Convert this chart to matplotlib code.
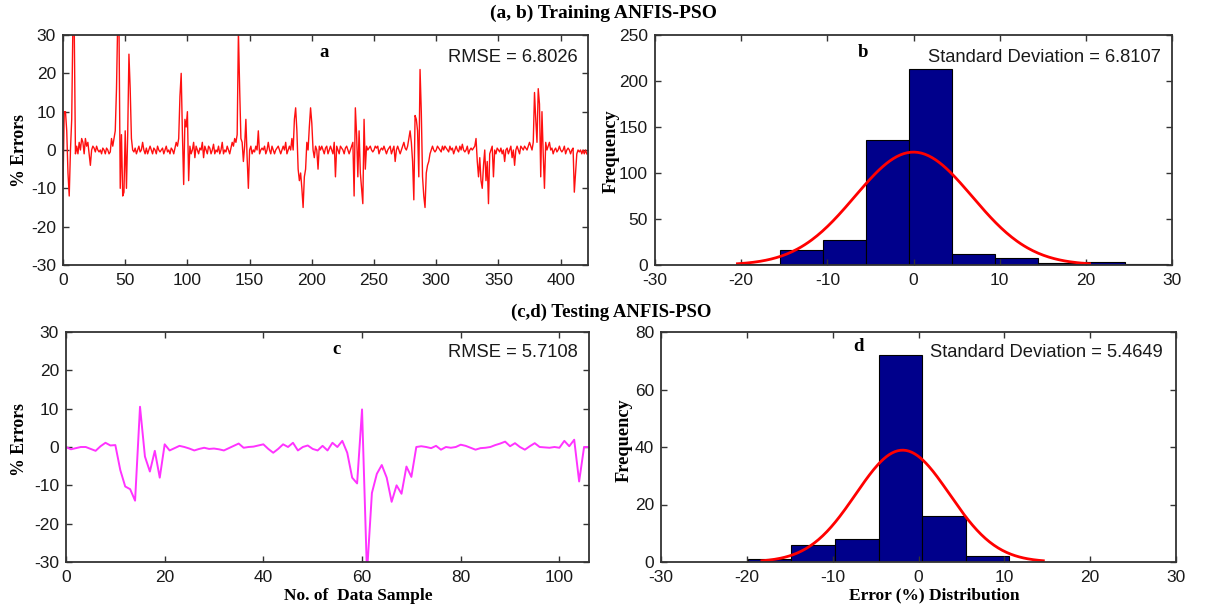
import numpy as np
import matplotlib
matplotlib.use("Agg")
import matplotlib.pyplot as plt

plt.rcParams["axes.unicode_minus"] = False

# ---------------- data ----------------
train_err = [
    -9, 10, 10, 5, -6, -12, 0, 8, 34, 33,
    -1, 1, -1, 2, 0, 3, 2, -1, 3, 1,
    2, -1, -4, 0, 1, 0.5, -0.5, 1, 0, -0.5,
    0, -1, 0.5, 0, -1, 0.5, 0, -1, -0.5, 3,
    1, 3, 5, 16, 34, 33, -10, 4, -12, -11,
    5, -10, 4, 25, 16, 3, 0, -0.5, 0.5, -1,
    0, 1, -0.5, 0, 2, 0, -1, 0.5, -1, 0,
    1, 0, -1, 0.5, 0, -1, 1, 0, -0.5, 0,
    0.5, -1, 0, 1, -0.5, 0, -1, 0.5, 0, -1,
    0.5, 2, 1, 3, 14, 20, 4, -9, 8, 6,
    10, -8, 1, -1, 0, 2, -2, 1, 0, -1,
    0.5, 0, 2, -2, 1, 0, -1, 1, 0.5, -1,
    0, 1.5, -1, 0, -0.5, 1, -1, 0, 2, -1,
    0, -0.5, 1, 0, -1, 0.5, 2, 1, 3, 2,
    4, 31, 16, 3, 2, -3, 1, 8, -2, -10,
    0, 1, -1, 0, -0.5, 1, 0, 5, -1, 0,
    0.5, 0, 1, -1, 0, 2, 0, -1, 1, 0,
    -1, 0, 0.5, 1, 0, -1, 0, 1, 0, 2,
    -1, 0, 1, 0, 3, 0, 8, 11, 5, -5,
    -8, -6, -10, -15, -7, -5, 2, 0, 6, 11,
    7, 0, -2, 1, 0, -5, 1, 0, 1, 0,
    -1, 0.5, 1, -1, 0, 1, 0, -1, 2, -7,
    1, 0, -1, 1, 0.5, 0, -1, 0.5, 1, 0,
    -1, 0, 1, 2, -12, 11, 4, -7, 5, -6,
    -10, -14, 8, -5, 1, 0, 0.5, 1, 0, -0.5,
    0, 1, 0.5, 1, -1, 0, 0.5, 0, 1, 0,
    -1, 0, 0.5, 1, -1, 0, 1, -3, 0, 1,
    0, -1, 0, 1, 2, 0.5, 0, 1, 3, 5,
    2, -3, -13, 9, 8, 5, -7, 21, 10, -7,
    -12, -15, -6, -4, -3, -1, 0, 1, 0, -0.5,
    0, 1, 0.5, 0, -0.5, 1, 0, 1, 0.5, 0,
    -0.5, 1, 0, 0.5, -1, 0, 1, 0, -0.5, 1,
    0, 1.5, 0, -0.5, 0, 1, -1, 0, 0.5, 0,
    0.5, 1, 3, -3, -7, -2, -8, -10, -4, 0,
    -8, -3, -14, -1, 0, 1, -7, 0, -1, 0.5,
    0, -0.5, 0.5, -1, 0, -3, 0, 0.5, -1, 0,
    1, -2, 0, -4, 0, 1, 0, -1, 1, 0.5,
    0, 1, 0.5, 0, 1, 2, 1, 0, 2, 15,
    8, 2, 16, 12, -7, 10, -1, -10, 2, 0,
    1, 2, 0, 0.5, -1, 0, 0.5, -0.5, 0, 1,
    0, -0.5, 0, 1, -1, 0, 0.5, 0, -1, 0,
    0.5, -11, -6, -1, 0, -0.5, 0, -1, 0, -1,
    0, -1,
]

test_err = [
    0, -0.6, -0.3, 0, 0, -0.5, -1, 0.2, 1.1, 0.4,
    0.5, -6, -10.3, -11, -14, 10.5, -2.5, -6.4, -1, -8,
    0.7, -0.9, -0.3, 0.3, 0, -0.4, -0.9, -0.5, -0.2, -0.5,
    -0.4, -0.6, -0.9, -0.3, 0.3, 0.9, -0.2, 0, 0.1, 0.4,
    0.7, -0.5, -1.5, -0.5, 0.7, 0, 1.1, -0.9, 0, 0.4,
    -0.5, -0.9, 0.3, -0.9, 1.1, 0, 1.6, -1.5, -8, -9.5,
    9.8, -33, -12, -7, -4.7, -8, -14.3, -10, -12.2, -5.1,
    -7.8, 0, 0.2, 0, -0.3, 0.3, -0.7, 0, -0.2, 0,
    0.6, 0.3, -0.2, -0.7, -0.3, -0.2, 0, 0.5, 0.9, 1.4,
    0.2, 1, 0, -0.7, 0.2, 1, 0, -0.1, -0.2, 0,
    -0.2, 1.6, 0.2, 1.9, -9, 0, 0,
]

train_edges = [-20.5, -15.5, -10.5, -5.5, -0.5, 4.5, 9.5, 14.5, 19.5, 24.5, 29.5]
train_counts = [1, 16, 27, 136, 213, 12, 8, 2, 3, 1]
train_mu, train_sd = 0.0, 6.8107

test_edges = [-19.9, -14.8, -9.75, -4.65, 0.45, 5.5, 10.55]
test_counts = [1, 6, 8, 72, 16, 2]
test_mu, test_sd = -1.85, 5.4649

train_rmse = "RMSE = 6.8026"
test_rmse = "RMSE = 5.7108"
train_sd_txt = "Standard Deviation = 6.8107"
test_sd_txt = "Standard Deviation = 5.4649"

# ---------------- style ----------------
SANS = "Liberation Sans"
SERIF = "Liberation Serif"
BAR = "#00008B"
FRAME = "#333333"
TXT = "#1a1a1a"

fig = plt.figure(figsize=(12.11, 6.05), dpi=100)
W, H = 1211.0, 605.0


def add_ax(l, t, r, b):
    return fig.add_axes([l / W, 1 - b / H, (r - l) / W, (b - t) / H])


def style(ax):
    ax.tick_params(direction="in", top=True, right=True, length=4, width=1,
                   color=FRAME, labelsize=12.5, labelcolor=TXT)
    ax.tick_params(axis="x", pad=5.6)
    ax.tick_params(axis="y", pad=5)
    for lab in ax.get_xticklabels() + ax.get_yticklabels():
        lab.set_family(SANS)
    for s in ax.spines.values():
        s.set_color(FRAME)
        s.set_linewidth(1.3)


def fit_curve(ax, counts, edges, mu, sd):
    n = sum(counts)
    w = (edges[-1] - edges[0]) / len(counts)
    xs = np.linspace(mu - 3 * sd, mu + 3 * sd, 200)
    ys = n * w * np.exp(-0.5 * ((xs - mu) / sd) ** 2) / (sd * np.sqrt(2 * np.pi))
    ax.plot(xs, ys, color="red", lw=2)


def hist(ax, counts, edges):
    lefts = edges[:-1]
    widths = np.diff(edges)
    ax.bar(lefts, counts, width=widths, align="edge", color=BAR,
           edgecolor="black", linewidth=0.8)


# panel a
ax_a = add_ax(63, 35, 588, 265)
ax_a.plot(np.arange(len(train_err)), train_err, color="#ff1010", lw=1.0)
ax_a.set_xlim(0, 422)
ax_a.set_ylim(-30, 30)
ax_a.set_xticks(range(0, 401, 50))
ax_a.set_yticks(range(-30, 31, 10))
style(ax_a)
ax_a.text(0.497, 0.926, "a", transform=ax_a.transAxes, ha="center", va="center",
          family=SERIF, weight="bold", fontsize=13.5)
ax_a.text(0.981, 0.904, train_rmse, transform=ax_a.transAxes, ha="right",
          va="center", family=SANS, fontsize=13.2, color=TXT)

# panel b
ax_b = add_ax(655, 35, 1172, 265)
hist(ax_b, train_counts, train_edges)
fit_curve(ax_b, train_counts, train_edges, train_mu, train_sd)
ax_b.set_xlim(-30, 30)
ax_b.set_ylim(0, 250)
ax_b.set_xticks(range(-30, 31, 10))
ax_b.set_yticks(range(0, 251, 50))
style(ax_b)
ax_b.text(0.402, 0.926, "b", transform=ax_b.transAxes, ha="center", va="center",
          family=SERIF, weight="bold", fontsize=13.5)
ax_b.text(0.979, 0.904, train_sd_txt, transform=ax_b.transAxes, ha="right",
          va="center", family=SANS, fontsize=13.2, color=TXT)

# panel c
ax_c = add_ax(66, 332, 589, 562)
ax_c.plot(np.arange(len(test_err)), test_err, color="#ff33ff", lw=1.4)
ax_c.set_xlim(0, 106)
ax_c.set_ylim(-30, 30)
ax_c.set_xticks(range(0, 101, 20))
ax_c.set_yticks(range(-30, 31, 10))
style(ax_c)
ax_c.text(0.518, 0.922, "c", transform=ax_c.transAxes, ha="center", va="center",
          family=SERIF, weight="bold", fontsize=13.5)
ax_c.text(0.979, 0.909, test_rmse, transform=ax_c.transAxes, ha="right",
          va="center", family=SANS, fontsize=13.2, color=TXT)

# panel d
ax_d = add_ax(661, 332, 1176, 562)
hist(ax_d, test_counts, test_edges)
fit_curve(ax_d, test_counts, test_edges, test_mu, test_sd)
ax_d.set_xlim(-30, 30)
ax_d.set_ylim(0, 80)
ax_d.set_xticks(range(-30, 31, 10))
ax_d.set_yticks(range(0, 81, 20))
style(ax_d)
ax_d.text(0.383, 0.935, "d", transform=ax_d.transAxes, ha="center", va="center",
          family=SERIF, weight="bold", fontsize=13.5)
ax_d.text(0.974, 0.913, test_sd_txt, transform=ax_d.transAxes, ha="right",
          va="center", family=SANS, fontsize=13.2, color=TXT)

# titles and labels
fig.text(603 / W, 1 - 13 / H, "(a, b) Training ANFIS-PSO", ha="center", va="center",
         family=SERIF, weight="bold", fontsize=14)
fig.text(611 / W, 1 - 312 / H, "(c,d) Testing ANFIS-PSO", ha="center", va="center",
         family=SERIF, weight="bold", fontsize=13.5)
fig.text(19 / W, 1 - 151 / H, "% Errors", rotation=90, ha="center", va="center",
         family=SERIF, weight="bold", fontsize=12.8)
fig.text(19 / W, 1 - 440 / H, "% Errors", rotation=90, ha="center", va="center",
         family=SERIF, weight="bold", fontsize=12.8)
fig.text(611 / W, 1 - 151 / H, "Frequency", rotation=90, ha="center", va="center",
         family=SERIF, weight="bold", fontsize=13.2)
fig.text(624 / W, 1 - 440 / H, "Frequency", rotation=90, ha="center", va="center",
         family=SERIF, weight="bold", fontsize=13.2)
fig.text(358 / W, 1 - 595.5 / H, "No. of  Data Sample", ha="center", va="center",
         family=SERIF, weight="bold", fontsize=12.5)
fig.text(934 / W, 1 - 595.5 / H, "Error (%) Distribution", ha="center", va="center",
         family=SERIF, weight="bold", fontsize=12.5)

fig.savefig("out.png", dpi=100)
